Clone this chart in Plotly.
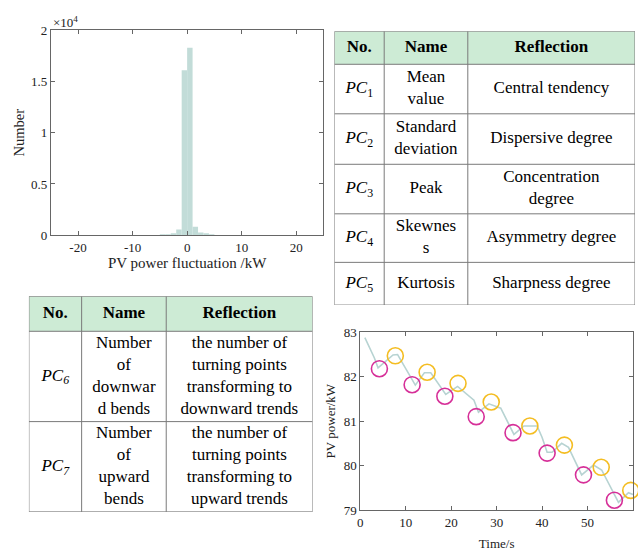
import plotly.graph_objects as go

# ---------------- data ----------------
# histogram of PV power fluctuation (bin centres, width 1 kW)
hist_bins = [-4.5, -3.5, -2.5, -1.5, -0.5, 0.5, 1.5, 2.5, 3.5, 4.5]
hist_counts = [30, 60, 180, 560, 16100, 18300, 820, 260, 90, 30]
hist_xticks = [-20, -10, 0, 10, 20]
hist_yticks = [0, 5000, 10000, 15000, 20000]
hist_yticktext = ["0", "0.5", "1", "1.5", "2"]

# PV power time series
time_s = [1, 3.1, 3.9, 7.2, 8.2, 12.1, 14.1, 15.5, 18.8, 21.4, 25, 26, 28.3, 30.9,
          33.8, 36, 38.9, 40, 41.1, 42.2, 44.3, 45.8, 48.7, 51.3, 53.1, 56.8, 59, 60]
pv_power = [82.88, 82.42, 82.2, 82.49, 82.5, 81.81, 82.09, 82.09, 81.6, 81.78, 81.47, 81.2,
            81.39, 81.29, 80.7, 80.89, 80.89, 80.63, 80.3, 80.3, 80.5, 80.41, 79.79, 80.01,
            79.9, 79.17, 79.39, 79.35]
down_t = [4.2, 11.4, 18.6, 25.5, 33.6, 41.1, 49.1, 55.9]
down_p = [82.18, 81.82, 81.56, 81.1, 80.74, 80.28, 79.79, 79.22]
up_t = [7.7, 14.7, 21.5, 28.8, 37.3, 44.9, 53.0, 59.5]
up_p = [82.47, 82.1, 81.85, 81.43, 80.89, 80.46, 79.96, 79.44]

# tables
header = ["<b>No.</b>", "<b>Name</b>", "<b>Reflection</b>"]
t1_no = ["<i>PC</i><sub>1</sub>", "<i>PC</i><sub>2</sub>", "<i>PC</i><sub>3</sub>",
         "<i>PC</i><sub>4</sub>", "<i>PC</i><sub>5</sub>"]
t1_name = ["Mean<br>value", "Standard<br>deviation", "Peak", "Skewnes<br>s", "Kurtosis"]
t1_refl = ["Central tendency", "Dispersive degree", "Concentration<br>degree",
           "Asymmetry degree", "Sharpness degree"]
t2_no = ["<i>PC<sub>6</sub></i>", "<i>PC<sub>7</sub></i>"]
t2_name = ["Number<br>of<br>downwar<br>d bends", "Number<br>of<br>upward<br>bends"]
t2_refl = ["the number of<br>turning points<br>transforming to<br>downward trends",
           "the number of<br>turning points<br>transforming to<br>upward trends"]

# ---------------- layout sizes ----------------
W, H = 638, 551
FONT = "Liberation Serif"
BAR = "#c2dcd8"
LINE = "#b7d3d2"
MAG = "#d62f98"
YEL = "#f4bd22"
AX_C = "#666666"
HDR_FILL = "#cdebd5"
TLINE = "#7a7a7a"
TXT = "#222222"

t1_colw = [50, 84, 168]
t1_rowh = [34, 51, 52, 51, 50, 44]
t2_colw = [53, 85, 147]
t2_rowh = [36, 93, 93]


def dx(a, b):
    return [a / W, b / W]


def dy(top, bottom):
    return [1 - bottom / H, 1 - top / H]


def cum(v):
    out = [0]
    for a in v:
        out.append(out[-1] + a)
    return out


fig = go.Figure()

fig.add_trace(go.Bar(x=hist_bins, y=hist_counts, width=1, marker=dict(color=BAR, line=dict(width=0)),
                     xaxis="x", yaxis="y", showlegend=False))

fig.add_trace(go.Scatter(x=time_s, y=pv_power, mode="lines", line=dict(color=LINE, width=1.6),
                         xaxis="x2", yaxis="y2", showlegend=False))
fig.add_trace(go.Scatter(x=down_t, y=down_p, mode="markers",
                         marker=dict(symbol="circle-open", size=16, color=MAG, line=dict(width=1.6)),
                         xaxis="x2", yaxis="y2", showlegend=False, cliponaxis=False))
fig.add_trace(go.Scatter(x=up_t, y=up_p, mode="markers",
                         marker=dict(symbol="circle-open", size=16, color=YEL, line=dict(width=1.6)),
                         xaxis="x2", yaxis="y2", showlegend=False, cliponaxis=False))

shapes = []


def add_table(cols, colw, rowh, xa, ya):
    xb = cum(colw)
    yb = cum(rowh)
    xr = xa.replace("axis", "")
    yr = ya.replace("axis", "")
    shapes.append(dict(type="rect", xref=xr, yref=yr, x0=0, x1=xb[-1], y0=0, y1=yb[1],
                       fillcolor=HDR_FILL, line=dict(width=0), layer="below"))
    for x in xb:
        shapes.append(dict(type="line", xref=xr, yref=yr, x0=x, x1=x, y0=0, y1=yb[-1],
                           line=dict(color=TLINE, width=1)))
    for y in yb:
        shapes.append(dict(type="line", xref=xr, yref=yr, x0=0, x1=xb[-1], y0=y, y1=y,
                           line=dict(color=TLINE, width=1)))
    xs, ys, ts = [], [], []
    for ci, col in enumerate(cols):
        for ri, txt in enumerate(col):
            xs.append((xb[ci] + xb[ci + 1]) / 2)
            ys.append((yb[ri] + yb[ri + 1]) / 2)
            ts.append(txt)
    fig.add_trace(go.Scatter(x=xs, y=ys, text=ts, mode="text", textposition="middle center",
                             textfont=dict(family=FONT, size=17, color="black"),
                             xaxis=xr, yaxis=yr, showlegend=False, hoverinfo="skip",
                             cliponaxis=False))
    return xb[-1], yb[-1]


tw1, th1 = add_table([[header[0]] + t1_no, [header[1]] + t1_name, [header[2]] + t1_refl],
                     t1_colw, t1_rowh, "xaxis3", "yaxis3")
tw2, th2 = add_table([[header[0]] + t2_no, [header[1]] + t2_name, [header[2]] + t2_refl],
                     t2_colw, t2_rowh, "xaxis4", "yaxis4")


def axis_style(tick_size):
    return dict(showline=True, linecolor=AX_C, linewidth=1, mirror="ticks", ticks="inside",
                ticklen=4, tickcolor=AX_C, showgrid=False, zeroline=False,
                tickfont=dict(family=FONT, size=tick_size, color=TXT))


hidden = dict(visible=False, showgrid=False, zeroline=False, fixedrange=True)

fig.update_layout(
    width=W, height=H, margin=dict(l=0, r=0, t=0, b=0),
    paper_bgcolor="white", plot_bgcolor="white",
    font=dict(family=FONT, color=TXT),
    xaxis=dict(domain=dx(48, 322), range=[-25, 25], tickvals=hist_xticks,
               ticktext=[str(v) for v in hist_xticks],
               title=dict(text="PV power fluctuation /kW", font=dict(size=15), standoff=3),
               anchor="y", **axis_style(13)),
    yaxis=dict(domain=dy(24, 235), range=[0, 20000], tickvals=hist_yticks, ticktext=hist_yticktext,
               title=dict(text="Number", font=dict(size=14.5), standoff=2), anchor="x", **axis_style(13)),
    xaxis2=dict(domain=dx(359, 633), range=[0, 60], dtick=10,
                title=dict(text="Time/s", font=dict(size=13), standoff=12), anchor="y2", **axis_style(13)),
    yaxis2=dict(domain=dy(335, 518), range=[79, 83], dtick=1,
                title=dict(text="PV power/kW", font=dict(size=13), standoff=5), anchor="x2", **axis_style(13)),
    xaxis3=dict(domain=dx(333, 635), range=[0, tw1], anchor="y3", **hidden),
    yaxis3=dict(domain=dy(25, 307), range=[th1, 0], anchor="x3", **hidden),
    xaxis4=dict(domain=dx(26, 311), range=[0, tw2], anchor="y4", **hidden),
    yaxis4=dict(domain=dy(298, 520), range=[th2, 0], anchor="x4", **hidden),
    shapes=shapes,
    annotations=[
        dict(text="×10<sup>4</sup>", xref="paper", yref="paper", x=48 / W, y=1 - 26 / H,
             xanchor="left", yanchor="bottom", showarrow=False,
             font=dict(family=FONT, size=13, color=TXT)),
    ],
)

fig.write_html("out.html")
